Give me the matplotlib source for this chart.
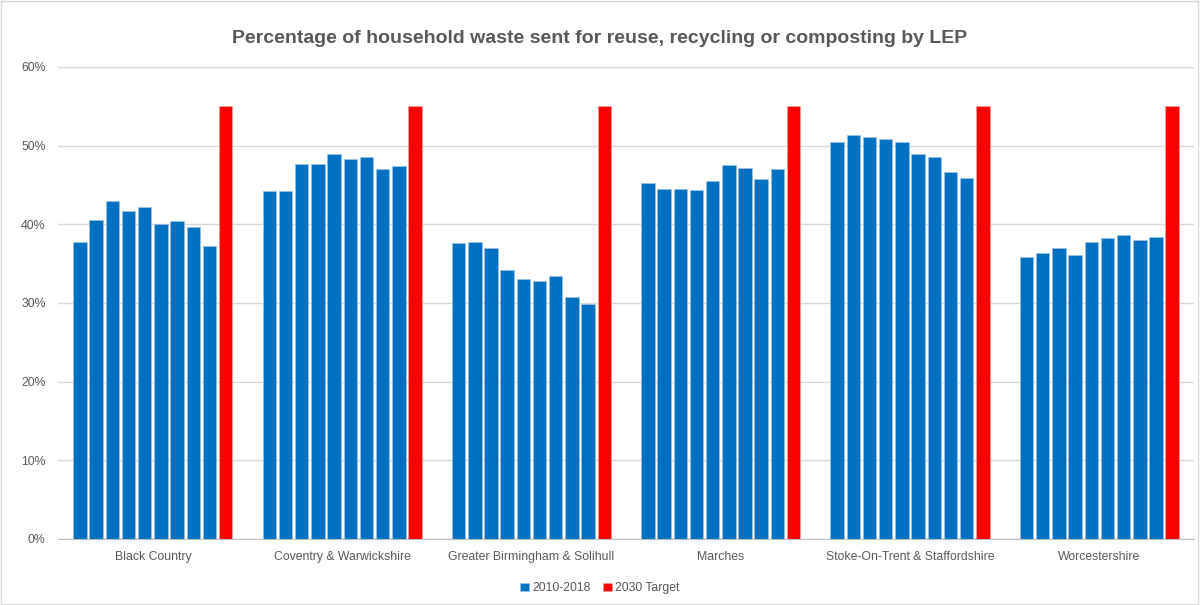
import numpy as np
import matplotlib.pyplot as plt
from matplotlib.patches import Rectangle

plt.rcParams["font.family"] = ["Liberation Sans", "DejaVu Sans"]

# LEP names and recycling rates 2010-2018 (%), 2030 target
leps = ["Black Country", "Coventry & Warwickshire", "Greater Birmingham & Solihull",
        "Marches", "Stoke-On-Trent & Staffordshire", "Worcestershire"]
years = list(range(2010, 2019))
black_country = [37.8, 40.5, 42.9, 41.7, 42.2, 40.1, 40.4, 39.6, 37.2]
coventry = [44.2, 44.2, 47.7, 47.7, 48.9, 48.3, 48.6, 47.0, 47.4]
birmingham = [37.6, 37.8, 37.0, 34.2, 33.1, 32.8, 33.4, 30.7, 29.9]
marches = [45.2, 44.5, 44.5, 44.3, 45.5, 47.5, 47.2, 45.7, 47.0]
stoke = [50.4, 51.3, 51.1, 50.8, 50.4, 48.9, 48.5, 46.6, 45.9]
worcs = [35.8, 36.3, 37.0, 36.1, 37.8, 38.3, 38.6, 38.0, 38.4]
target = [55, 55, 55, 55, 55, 55]

rates = [black_country, coventry, birmingham, marches, stoke, worcs]

blue = "#0070C0"
red = "#FF0000"
grey = "#595959"

fig = plt.figure(figsize=(12, 6.05), dpi=100)
ax = fig.add_axes([0.0485, 0.1091, 0.9465, 0.7802])

slot = 0.0855
width = 0.071
n = len(years) + 1
for i, vals in enumerate(rates):
    xs = i + (np.arange(len(years)) - (n - 1) / 2) * slot
    ax.bar(xs, vals, width=width, color=blue, edgecolor="#9DC3E6", linewidth=0.5,
           label="2010-2018" if i == 0 else None, zorder=3)
    ax.bar(i + (n - 1) / 2 * slot, target[i], width=width, color=red,
           edgecolor="#FF9999", linewidth=0.5,
           label="2030 Target" if i == 0 else None, zorder=3)

ax.set_xlim(-0.5, len(leps) - 0.5)
ax.set_ylim(0, 60)
ax.set_yticks(range(0, 61, 10))
ax.set_yticklabels([f"{v}%" for v in range(0, 61, 10)])
ax.set_xticks(range(len(leps)))
ax.set_xticklabels(leps)
ax.tick_params(axis="both", length=0, labelsize=8.8, labelcolor=grey)
ax.tick_params(axis="x", pad=9)
ax.tick_params(axis="y", pad=9)
ax.grid(axis="y", color="#D9D9D9", linewidth=1, zorder=0)
for s in ["top", "right", "left"]:
    ax.spines[s].set_visible(False)
ax.spines["bottom"].set_color("#BFBFBF")

fig.text(0.5, 0.937, "Percentage of household waste sent for reuse, recycling or composting by LEP",
         ha="center", va="center", fontsize=14, fontweight="bold", color=grey)

fig.legend(loc="center", bbox_to_anchor=(0.5, 0.028), ncol=2, frameon=False,
           fontsize=8.8, labelcolor=grey, handlelength=0.7, handleheight=0.7,
           handletextpad=0.3, columnspacing=1.0)

fig.patches.append(Rectangle((0.001, 0.002), 0.997, 0.996, transform=fig.transFigure,
                             fill=False, edgecolor="#D9D9D9", linewidth=1))

fig.savefig("out.png", dpi=100)
